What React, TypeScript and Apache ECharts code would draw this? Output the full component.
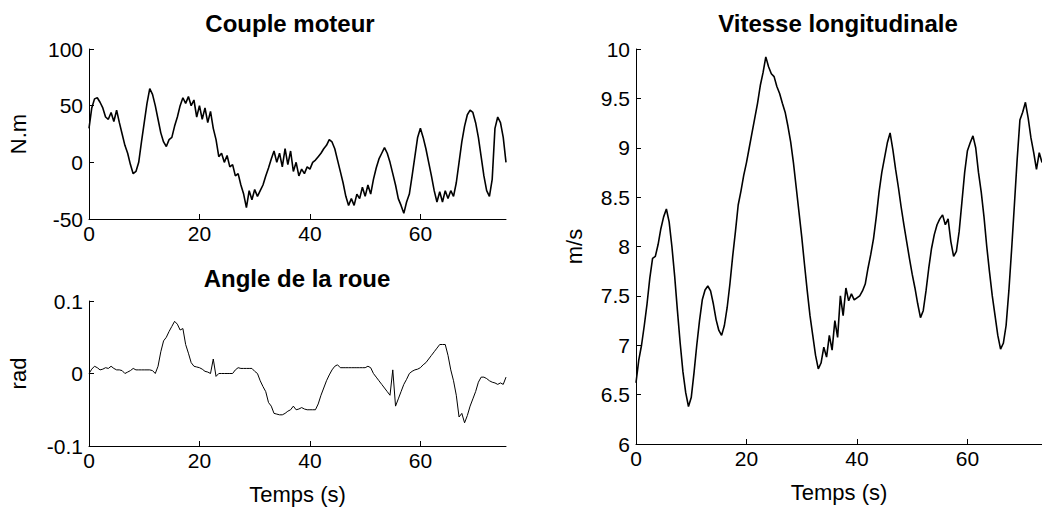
import React, { useEffect, useRef } from "react";
import * as echarts from "echarts";

const STEP = 0.5;

const torque: number[] = [
  30, 48, 56, 57, 53, 48, 40, 38, 44, 36, 46, 35, 25, 15, 8, -2, -10, -8, 0, 18,
  35, 52, 65, 60, 50, 38, 26, 18, 14, 20, 22, 32, 40, 50, 57, 52, 58, 50, 55, 40,
  50, 38, 48, 35, 45, 30, 20, 5, 8, 0, 6, -4, -2, -12, -10, -20, -28, -40, -25, -33,
  -24, -30, -25, -20, -12, -5, 3, 10, 0, 8, -4, 12, -2, 10, -8, 0, -12, -6, -10, -4,
  -6, 0, 2, 5, 8, 12, 15, 20, 18, 12, 2, -8, -18, -30, -38, -32, -38, -28, -32, -22,
  -30, -20, -28, -15, -5, 3, 8, 13, 8, 0, -10, -20, -32, -38, -45, -35, -28, -12, 5, 22,
  30, 22, 12, 0, -12, -25, -35, -26, -35, -25, -32, -25, -30, -18, 0, 18, 32, 42, 46, 44,
  35, 22, 5, -12, -25, -30, -15, 30, 40, 35, 22, 0,
];

const angle: number[] = [
  0.0, 0.006, 0.01, 0.008, 0.005, 0.006, 0.008, 0.007, 0.01, 0.007,
  0.005, 0.005, 0.004, 0.0, 0.002, 0.004, 0.007, 0.005, 0.005, 0.005,
  0.005, 0.005, 0.005, 0.004, 0.0, 0.01, 0.03, 0.045, 0.05, 0.058,
  0.065, 0.072, 0.068, 0.06, 0.062, 0.04, 0.028, 0.015, 0.01, 0.009,
  0.008, 0.006, 0.003, 0.002, 0.0, 0.02, -0.004, 0.0, 0.0, 0.0,
  0.0, 0.0, 0.0, 0.005, 0.008, 0.007, 0.007, 0.007, 0.007, 0.007,
  0.003, 0.0, -0.01, -0.018, -0.025, -0.04, -0.045, -0.055, -0.056, -0.057,
  -0.057, -0.055, -0.052, -0.05, -0.045, -0.05, -0.049, -0.047, -0.049, -0.05,
  -0.05, -0.05, -0.05, -0.042, -0.03, -0.02, -0.01, -0.002, 0.005, 0.01,
  0.012, 0.008, 0.008, 0.008, 0.008, 0.008, 0.008, 0.008, 0.008, 0.008,
  0.008, 0.01, 0.008, 0.0, -0.005, -0.01, -0.015, -0.02, -0.025, -0.03,
  0.005, -0.045, -0.035, -0.025, -0.015, -0.008, 0.0, 0.003, 0.005, 0.006,
  0.008, 0.012, 0.015, 0.02, 0.025, 0.03, 0.035, 0.04, 0.04, 0.04,
  0.025, 0.005, -0.01, -0.03, -0.06, -0.055, -0.068, -0.058, -0.045, -0.035,
  -0.025, -0.012, -0.005, -0.005, -0.007, -0.01, -0.012, -0.013, -0.015, -0.013,
  -0.015, -0.005,
];

const speed: number[] = [
  6.62, 6.85, 7.0, 7.2, 7.42, 7.68, 7.88, 7.9, 8.02, 8.18,
  8.3, 8.38, 8.25, 8.0, 7.7, 7.35, 7.02, 6.73, 6.52, 6.38,
  6.47, 6.72, 7.0, 7.25, 7.46, 7.56, 7.6, 7.55, 7.42, 7.26,
  7.15, 7.1, 7.2, 7.38, 7.62, 7.9, 8.15, 8.42, 8.56, 8.72,
  8.85, 9.0, 9.15, 9.3, 9.45, 9.63, 9.76, 9.92, 9.82, 9.75,
  9.72, 9.62, 9.55, 9.45, 9.36, 9.22, 9.06, 8.85, 8.6, 8.35,
  8.1, 7.82, 7.55, 7.3, 7.1, 6.9, 6.76, 6.82, 6.98, 6.88,
  7.1, 6.95, 7.25, 7.08, 7.5, 7.3, 7.58, 7.45, 7.52, 7.46,
  7.48, 7.5, 7.55, 7.62, 7.78, 7.92, 8.08, 8.3, 8.55, 8.75,
  8.9, 9.05, 9.15, 8.98, 8.78, 8.6, 8.4, 8.22, 8.05, 7.88,
  7.72, 7.58, 7.42, 7.28, 7.35, 7.55, 7.78, 7.98, 8.12, 8.22,
  8.28, 8.32, 8.22, 8.28, 8.05, 7.9, 7.95, 8.15, 8.45, 8.75,
  8.97, 9.05, 9.12, 9.0, 8.75, 8.55, 8.3, 8.0, 7.74, 7.5,
  7.3, 7.1, 6.96, 7.02, 7.2, 7.55, 7.97, 8.42, 8.88, 9.28,
  9.36, 9.46, 9.3, 9.1, 8.95, 8.78, 8.95, 8.85,
];

const titles = ["Couple moteur", "Angle de la roue", "Vitesse longitudinale"];
const yNames = ["N.m", "rad", "m/s"];
const xName = "Temps (s)";

const pairs = (vals: number[]) => vals.map((v, i) => [i * STEP, v]);

const FONT = "Liberation Sans, Arial, Helvetica, sans-serif";

export default function App() {
  const ref = useRef<HTMLDivElement>(null);
  useEffect(() => {
    if (!ref.current) return;
    const chart = echarts.init(ref.current, undefined, { renderer: "svg" });
    const axisLine = { show: true, onZero: false, lineStyle: { color: "#000", width: 1 } };
    const axisTick = { show: true, inside: true, length: 5, lineStyle: { color: "#000" } };
    const label = { color: "#000", fontSize: 21, fontFamily: FONT };
    const nameStyle = { color: "#000", fontSize: 22, fontFamily: FONT };
    const xBase = (grid: number, max: number, withName: boolean) => ({
      type: "value",
      gridIndex: grid,
      min: 0,
      max,
      interval: 20,
      axisLine,
      axisTick,
      splitLine: { show: false },
      axisLabel: { ...label, margin: 4, showMaxLabel: false },
      name: withName ? xName : "",
      nameLocation: "middle",
      nameGap: 37,
      nameTextStyle: nameStyle,
    });
    const yBase = (grid: number, min: number, max: number, interval: number, name: string, gap: number) => ({
      type: "value",
      gridIndex: grid,
      min,
      max,
      interval,
      axisLine,
      axisTick,
      splitLine: { show: false },
      axisLabel: { ...label, margin: 6 },
      name,
      nameLocation: "middle",
      nameRotate: 90,
      nameGap: gap,
      nameTextStyle: nameStyle,
    });
    const titleStyle = { color: "#000", fontSize: 24, fontWeight: "bold", fontFamily: FONT };
    chart.setOption({
      animation: false,
      backgroundColor: "#fff",
      textStyle: { fontFamily: FONT },
      title: [
        { text: titles[0], left: 290, top: 11, textAlign: "center", padding: 0, textStyle: titleStyle },
        { text: titles[1], left: 297, top: 266, textAlign: "center", padding: 0, textStyle: titleStyle },
        { text: titles[2], left: 838, top: 11, textAlign: "center", padding: 0, textStyle: titleStyle },
      ],
      grid: [
        { left: 89, top: 49, width: 417, height: 170 },
        { left: 89, top: 301, width: 417, height: 145 },
        { left: 636, top: 49, width: 406, height: 397 },
      ],
      xAxis: [xBase(0, 75.5, false), xBase(1, 75.5, true), xBase(2, 73.5, true)],
      yAxis: [
        yBase(0, -50, 100, 50, yNames[0], 60),
        yBase(1, -0.1, 0.1, 0.1, yNames[1], 60),
        yBase(2, 6, 10, 0.5, yNames[2], 51),
      ],
      series: [
        { type: "line", xAxisIndex: 0, yAxisIndex: 0, data: pairs(torque), showSymbol: false, lineStyle: { color: "#000", width: 1.6 } },
        { type: "line", xAxisIndex: 1, yAxisIndex: 1, data: pairs(angle), showSymbol: false, lineStyle: { color: "#000", width: 1 } },
        { type: "line", xAxisIndex: 2, yAxisIndex: 2, data: pairs(speed), showSymbol: false, lineStyle: { color: "#000", width: 1.6 } },
      ],
    });
    return () => chart.dispose();
  }, []);
  return (
    <div
      ref={ref}
      style={{ position: "absolute", left: 0, top: 0, width: 1042, height: 508, background: "#fff" }}
    />
  );
}
